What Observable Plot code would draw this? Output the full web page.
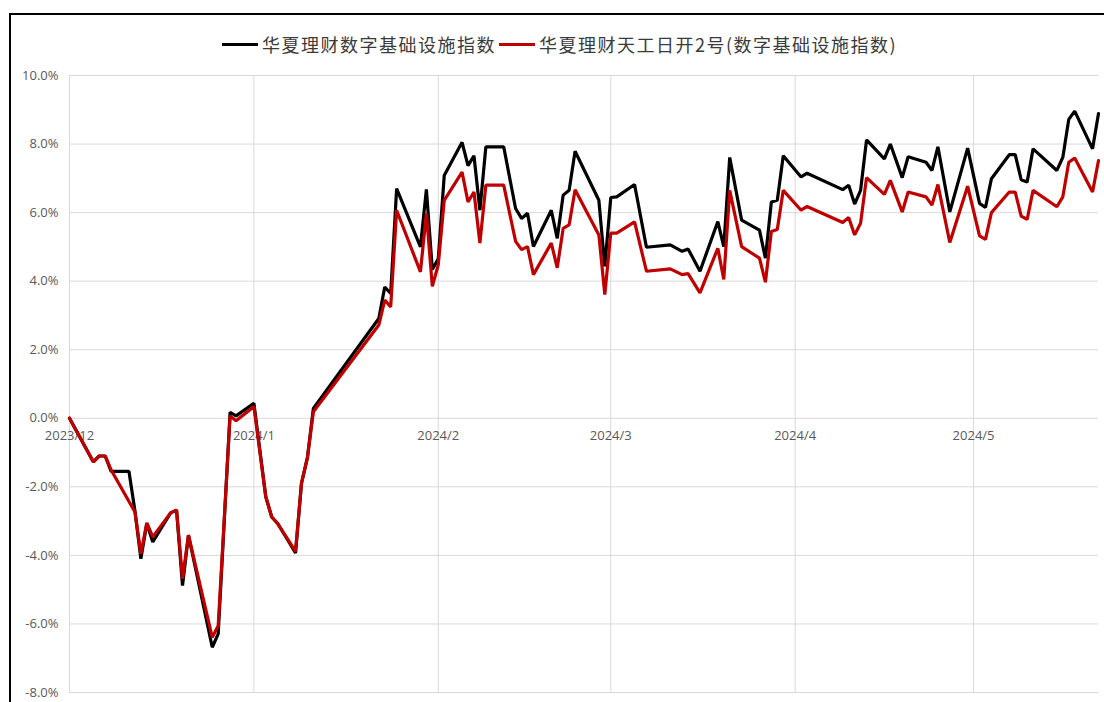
<!DOCTYPE html>
<html>
<head>
<meta charset="utf-8">
<script src="https://cdn.jsdelivr.net/npm/d3@7"></script>
<script src="https://cdn.jsdelivr.net/npm/@observablehq/plot@0.6"></script>
<style>
  html, body { margin: 0; padding: 0; background: #fff; width: 1104px; height: 702px; overflow: hidden; }
  #wrap { position: relative; width: 1104px; height: 702px; }
  #chart { position: absolute; left: 0; top: 0; }
  #frame { position: absolute; left: 9px; top: 13px; width: 1200px; height: 800px; border: 2px solid #000; pointer-events: none; z-index: 5; }
  #legend { position: absolute; left: 222px; top: 31px; display: flex; align-items: center; font-family: "Noto Sans CJK SC", sans-serif; font-size: 18px; letter-spacing: 1.5px; color: #3a3a3a; z-index: 4; white-space: nowrap; }
  .sw { width: 36px; height: 3px; margin-right: 4px; }
  .lab { margin-right: 3px; }
</style>
</head>
<body>
<div id="wrap">
  <div id="chart"></div>
  <div id="legend"></div>
  <div id="frame"></div>
</div>
<script>
// Series names
const seriesNames = ["华夏理财数字基础设施指数", "华夏理财天工日开2号(数字基础设施指数)"];
const seriesColors = ["#000000", "#c00000"];

// Dates of observations
const dates = [
  "2023-12-01","2023-12-05","2023-12-06","2023-12-07","2023-12-08","2023-12-11","2023-12-12","2023-12-13","2023-12-14","2023-12-15","2023-12-18","2023-12-19","2023-12-20","2023-12-21","2023-12-25","2023-12-26","2023-12-28","2023-12-29",
  "2024-01-01","2024-01-03","2024-01-04","2024-01-05","2024-01-08","2024-01-09","2024-01-10","2024-01-11","2024-01-22","2024-01-23","2024-01-24","2024-01-25","2024-01-29","2024-01-30","2024-01-31",
  "2024-02-01","2024-02-02","2024-02-05","2024-02-06","2024-02-07","2024-02-08","2024-02-09","2024-02-12","2024-02-14","2024-02-15","2024-02-16","2024-02-17","2024-02-20","2024-02-21","2024-02-22","2024-02-23","2024-02-24","2024-02-28","2024-02-29",
  "2024-03-01","2024-03-02","2024-03-05","2024-03-07","2024-03-11","2024-03-13","2024-03-14","2024-03-16","2024-03-19","2024-03-20","2024-03-21","2024-03-23","2024-03-26","2024-03-27","2024-03-28","2024-03-29","2024-03-30",
  "2024-04-02","2024-04-03","2024-04-09","2024-04-10","2024-04-11","2024-04-12","2024-04-13","2024-04-16","2024-04-17","2024-04-19","2024-04-20","2024-04-23","2024-04-24","2024-04-25","2024-04-27","2024-04-30",
  "2024-05-02","2024-05-03","2024-05-04","2024-05-07","2024-05-08","2024-05-09","2024-05-10","2024-05-11","2024-05-15","2024-05-16","2024-05-17","2024-05-18","2024-05-21","2024-05-22"
];

// 华夏理财数字基础设施指数 (%)
const indexValues = [
  0, -1.27, -1.10, -1.10, -1.55, -1.55, -2.70, -4.10, -3.07, -3.61, -2.76, -2.68, -4.88, -3.41, -6.68, -6.29, 0.17, 0.07,
  0.44, -2.29, -2.88, -3.07, -3.93, -1.90, -1.15, 0.29, 2.91, 3.83, 3.64, 6.70, 5.00, 6.68, 4.34,
  4.65, 7.08, 8.05, 7.37, 7.66, 6.07, 7.92, 7.92, 6.12, 5.83, 5.98, 5.01, 6.07, 5.25, 6.51, 6.65, 7.79, 6.36, 4.43,
  6.44, 6.46, 6.82, 4.99, 5.06, 4.87, 4.94, 4.29, 5.74, 5.01, 7.61, 5.78, 5.49, 4.67, 6.31, 6.36, 7.66,
  7.04, 7.15, 6.67, 6.80, 6.25, 6.65, 8.12, 7.57, 8.00, 7.02, 7.63, 7.47, 7.23, 7.92, 6.02, 7.88,
  6.27, 6.15, 6.99, 7.69, 7.69, 6.96, 6.89, 7.86, 7.23, 7.61, 8.72, 8.96, 7.86, 8.89
];

// 华夏理财天工日开2号 (%)
const productValues = [
  0, -1.27, -1.10, -1.10, -1.51, -2.43, -2.73, -3.95, -3.05, -3.46, -2.76, -2.68, -4.68, -3.41, -6.39, -6.05, 0.07, -0.07,
  0.34, -2.29, -2.88, -3.07, -3.88, -1.90, -1.15, 0.19, 2.72, 3.45, 3.25, 6.07, 4.27, 5.98, 3.85,
  4.48, 6.36, 7.18, 6.31, 6.60, 5.11, 6.80, 6.80, 5.16, 4.92, 5.01, 4.19, 5.11, 4.39, 5.54, 5.64, 6.67, 5.35, 3.61,
  5.40, 5.40, 5.73, 4.29, 4.36, 4.19, 4.22, 3.66, 4.96, 4.05, 6.65, 5.01, 4.67, 3.97, 5.45, 5.51, 6.65,
  6.07, 6.18, 5.71, 5.86, 5.35, 5.69, 7.02, 6.53, 6.94, 6.02, 6.60, 6.46, 6.22, 6.82, 5.13, 6.77,
  5.32, 5.22, 6.00, 6.60, 6.60, 5.90, 5.80, 6.65, 6.17, 6.46, 7.47, 7.59, 6.60, 7.52
];

// Axis ticks
const xTickDates = ["2023-12-01","2024-01-01","2024-02-01","2024-03-01","2024-04-01","2024-05-01"];
const xTickLabels = ["2023/12","2024/1","2024/2","2024/3","2024/4","2024/5"];
const yTicks = [-8, -6, -4, -2, 0, 2, 4, 6, 8, 10];
const xDomain = ["2023-12-01", "2024-05-22"];

const parse = d3.utcParse("%Y-%m-%d");
const seriesA = dates.map((d, i) => ({date: parse(d), value: indexValues[i]}));
const seriesB = dates.map((d, i) => ({date: parse(d), value: productValues[i]}));
const monthTicks = xTickDates.map((d, i) => ({date: parse(d), label: xTickLabels[i]}));

const chart = Plot.plot({
  width: 1104,
  height: 702,
  marginLeft: 69,
  marginRight: 6,
  marginTop: 75,
  marginBottom: 10,
  style: {fontFamily: "'Open Sans', sans-serif", fontSize: "13px", color: "#595959", background: "transparent", overflow: "visible"},
  x: {type: "utc", domain: xDomain.map(parse), axis: null},
  y: {domain: [-8, 10], axis: null, label: null},
  marks: [
    Plot.gridY(yTicks, {stroke: "#d9d9d9", strokeOpacity: 1, strokeWidth: 1}),
    Plot.gridX(monthTicks.map(d => d.date), {stroke: "#d9d9d9", strokeOpacity: 1, strokeWidth: 1}),
    Plot.axisY(yTicks, {tickSize: 0, tickPadding: 11, tickFormat: d => d.toFixed(1) + "%", fill: "#595959", fontSize: 13, label: null}),
    Plot.text(monthTicks, {x: "date", y: () => 0, text: "label", dy: 18, fill: "#595959", fontSize: 13, textAnchor: "middle"}),
    Plot.lineY(seriesA, {x: "date", y: "value", stroke: seriesColors[0], strokeWidth: 3.2, strokeLinejoin: "miter"}),
    Plot.lineY(seriesB, {x: "date", y: "value", stroke: seriesColors[1], strokeWidth: 3.2, strokeLinejoin: "miter"})
  ]
});
document.getElementById("chart").appendChild(chart);

const legend = document.getElementById("legend");
seriesNames.forEach((name, i) => {
  const sw = document.createElement("div");
  sw.className = "sw";
  sw.style.background = seriesColors[i];
  const lab = document.createElement("span");
  lab.className = "lab";
  lab.textContent = name;
  legend.appendChild(sw);
  legend.appendChild(lab);
});
</script>
</body>
</html>
